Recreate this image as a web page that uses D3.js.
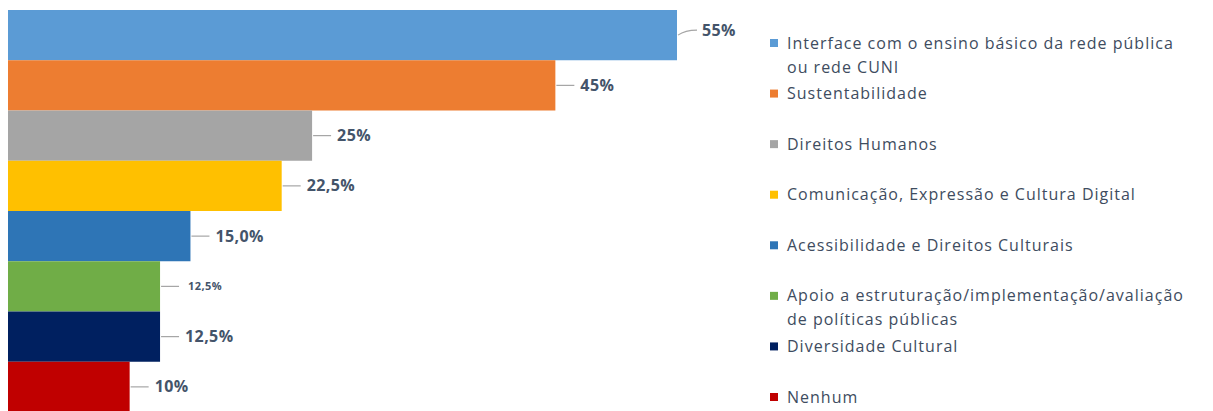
<!DOCTYPE html>
<html lang="pt">
<head>
    <meta charset="UTF-8">
    <title>Temas</title>
    <script src="https://cdnjs.cloudflare.com/ajax/libs/d3/7.8.5/d3.min.js"></script>
    <style>
        body { margin: 0; background: #fff; }
        svg { display: block; }
        .lbl { font-family: "Open Sans", sans-serif; font-weight: bold; fill: #44546A; letter-spacing: 0.4px; }
        .leg { font-family: "Open Sans", sans-serif; font-size: 16px; fill: #3E4C60; letter-spacing: 1px; }
    </style>
</head>
<body>
    <svg width="1213" height="411"></svg>

    <script>
        const categories = [
            "Interface com o ensino básico da rede pública ou rede CUNI",
            "Sustentabilidade",
            "Direitos Humanos",
            "Comunicação, Expressão e Cultura Digital",
            "Acessibilidade e Direitos Culturais",
            "Apoio a estruturação/implementação/avaliação de políticas públicas",
            "Diversidade Cultural",
            "Nenhum"
        ];
        const legendLines = [
            ["Interface com o ensino básico da rede pública", "ou rede CUNI"],
            ["Sustentabilidade"],
            ["Direitos Humanos"],
            ["Comunicação, Expressão e Cultura Digital"],
            ["Acessibilidade e  Direitos Culturais"],
            ["Apoio a estruturação/implementação/avaliação", "de políticas públicas"],
            ["Diversidade Cultural"],
            ["Nenhum"]
        ];
        const values = [55, 45, 25, 22.5, 15, 12.5, 12.5, 10];
        const valueLabels = ["55%", "45%", "25%", "22,5%", "15,0%", "12,5%", "12,5%", "10%"];
        const colors = ["#5B9BD5", "#ED7D31", "#A5A5A5", "#FFC000", "#2E75B6", "#70AD47", "#002060", "#C00000"];

        const svg = d3.select("svg");

        const x = d3.scaleLinear().domain([0, 55]).range([8, 677]);
        const y = d3.scaleBand().domain(categories).range([10, 412]).padding(0);

        const rows = categories.map((c, i) => ({ c, v: values[i], label: valueLabels[i], color: colors[i], i }));

        svg.append("g")
            .selectAll("rect")
            .data(rows)
            .join("rect")
            .attr("x", x(0))
            .attr("y", d => y(d.c))
            .attr("width", d => x(d.v) - x(0))
            .attr("height", y.bandwidth())
            .attr("fill", d => d.color);

        // data labels with short leader lines
        const lab = svg.append("g").selectAll("g")
            .data(rows)
            .join("g")
            .attr("transform", d => `translate(${x(d.v)},${y(d.c) + y.bandwidth() / 2 + (d.i === 0 ? -5 : 0)})`);

        lab.append("path")
            .attr("d", d => d.i === 0 ? "M1,5 Q8,0 20,0" : "M1,0 L19,0")
            .attr("fill", "none")
            .attr("stroke", "#A6A6A6")
            .attr("stroke-width", 1.2);

        lab.append("text")
            .attr("class", "lbl")
            .attr("x", d => d.i === 5 ? 28 : 25)
            .attr("dy", "0.35em")
            .attr("font-size", d => d.i === 5 ? 11 : 16)
            .text(d => d.label);

        // legend
        const ly = d3.scalePoint().domain(categories).range([43, 397]);
        const leg = svg.append("g").selectAll("g")
            .data(rows)
            .join("g")
            .attr("transform", d => `translate(770,${ly(d.c)})`);

        leg.append("rect")
            .attr("x", 0)
            .attr("y", -4)
            .attr("width", 8)
            .attr("height", 8)
            .attr("fill", d => d.color);

        leg.append("text")
            .attr("class", "leg")
            .selectAll("tspan")
            .data(d => legendLines[d.i])
            .join("tspan")
            .attr("x", 17)
            .attr("y", (d, j) => j * 24)
            .attr("dy", "0.35em")
            .text(d => d);
    </script>
</body>
</html>
